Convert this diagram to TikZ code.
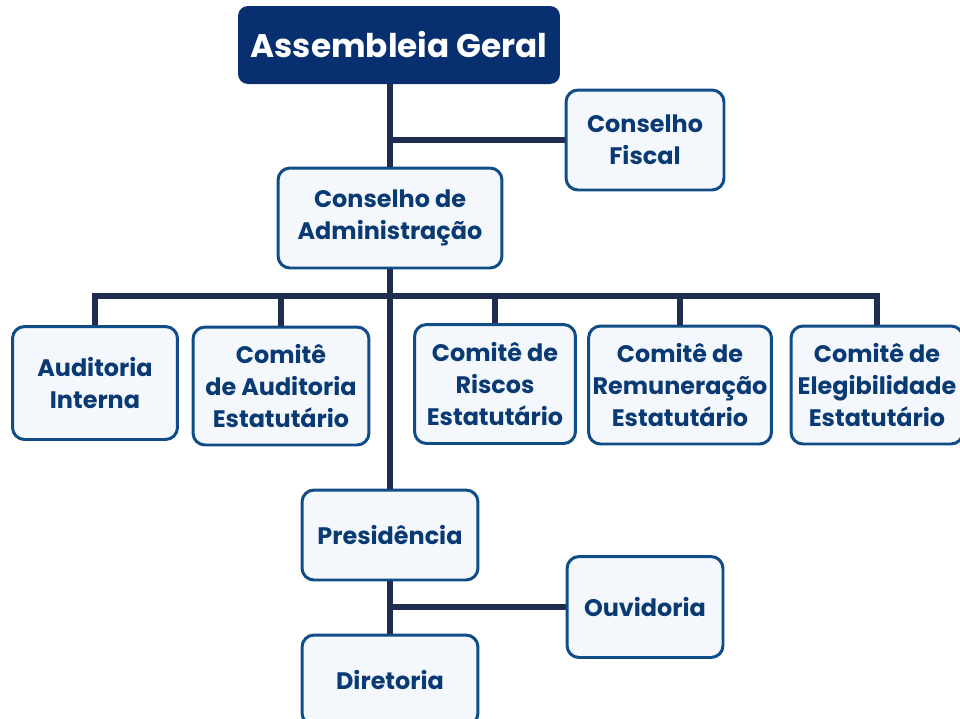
\documentclass[tikz,border=0pt]{standalone}
\usepackage{fontspec}
\setmainfont{Poppins}
\usepackage{tikz}

\definecolor{navy}{RGB}{8,48,112}
\definecolor{boxtext}{RGB}{10,58,115}
\definecolor{boxline}{RGB}{16,76,133}
\definecolor{boxfill}{RGB}{244,248,252}
\definecolor{linkcol}{RGB}{30,45,80}

\tikzset{
  unit/.style={draw=boxline, line width=1.7pt, fill=boxfill, rounded corners=0.24cm,
    text=boxtext, font=\fontsize{13.6}{18.4}\selectfont\bfseries, align=center, inner sep=0pt},
  top/.style={fill=navy, rounded corners=0.2cm, text=white,
    font=\fontsize{18.6}{22}\selectfont\bfseries, inner sep=0pt},
  link/.style={draw=linkcol, line width=3.2pt}
}

\begin{document}
\begin{tikzpicture}[x=0.02cm, y=-0.02cm]
    \useasboundingbox (0,0) rectangle (960,718);

    % Top level
    \node[top, minimum width=6.44cm, minimum height=1.56cm] (ag) at (399,45) {Assembleia Geral};
    \node[unit, minimum width=3.16cm, minimum height=2.0cm] (cf) at (645,140) {Conselho\\Fiscal};
    \node[unit, minimum width=4.48cm, minimum height=2.0cm] (ca) at (390,218) {Conselho de\\Administração};

    % Committees
    \node[unit, minimum width=3.3cm, minimum height=2.26cm] (ai) at (95,383) {Auditoria\\Interna};
    \node[unit, minimum width=3.52cm, minimum height=2.36cm] (cae) at (281,386) {Comitê\\de Auditoria\\Estatutário};
    \node[unit, minimum width=3.22cm, minimum height=2.38cm] (cr) at (495,384) {Comitê de\\Riscos\\Estatutário};
    \node[unit, minimum width=3.66cm, minimum height=2.36cm] (crem) at (680,385) {Comitê de\\Remuneração\\Estatutário};
    \node[unit, minimum width=3.44cm, minimum height=2.36cm] (ce) at (877,385) {Comitê de\\Elegibilidade\\Estatutário};

    % Executive
    \node[unit, minimum width=3.52cm, minimum height=1.8cm] (pres) at (390,535) {Presidência};
    \node[unit, minimum width=3.12cm, minimum height=2.02cm] (ouv) at (645,607) {Ouvidoria};
    \node[unit, minimum width=3.52cm, minimum height=1.8cm] (dir) at (390,680) {Diretoria};

    % Connectors
    \coordinate (bus) at (390,296);
    \draw[link] (ca.north) -- (ca.north |- ag.south);
    \draw[link] (cf.west) -- (cf.west -| ca.north);
    \draw[link] (ca.south) -- (pres.north);
    \draw[link] (ai.north) -- (ai.north |- bus) -- (ce.north |- bus) -- (ce.north);
    \foreach \n in {cae,cr,crem}
        \draw[link] (\n.north) -- (\n.north |- bus);
    \draw[link] (pres.south) -- (dir.north);
    \draw[link] (ouv.west) -- (ouv.west -| pres.south);
\end{tikzpicture}
\end{document}
